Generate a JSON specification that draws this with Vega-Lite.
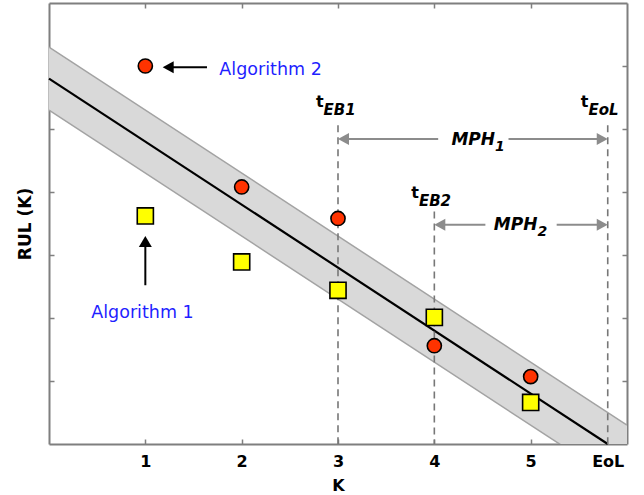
{
  "$schema": "https://vega.github.io/schema/vega-lite/v6.json",
  "width": 578,
  "height": 441,
  "autosize": {"type": "none"},
  "padding": {"left": 49, "top": 3, "right": 17, "bottom": 51},
  "background": "white",
  "config": {
    "view": {"stroke": null},
    "font": "DejaVu Sans",
    "axis": {
      "domainColor": "#7f7f7f",
      "domainWidth": 2,
      "tickColor": "#7f7f7f",
      "tickWidth": 1.5,
      "tickSize": -5,
      "grid": false
    }
  },
  "resolve": {"axis": {"x": "independent", "y": "independent"}},
  "datasets": {
    "band": [
      {"k": 0, "lo": 5.3, "hi": 6.3},
      {"k": 6, "lo": -0.7, "hi": 0.3}
    ],
    "edges": [
      {"k": 0, "v": 6.3, "s": "hi"},
      {"k": 6, "v": 0.3, "s": "hi"},
      {"k": 0, "v": 5.3, "s": "lo"},
      {"k": 6, "v": -0.7, "s": "lo"}
    ],
    "mean": [
      {"k": 0, "v": 5.8},
      {"k": 5.8, "v": 0}
    ],
    "dashed": [
      {"k": 3, "top": 5.06},
      {"k": 4, "top": 3.69},
      {"k": 5.8, "top": 5.06}
    ],
    "graysegs": [
      {"x": 3.05, "x2": 4.04, "y": 4.84, "y2": 4.84},
      {"x": 4.77, "x2": 5.75, "y": 4.84, "y2": 4.84},
      {"x": 4.05, "x2": 4.53, "y": 3.48, "y2": 3.48},
      {"x": 5.27, "x2": 5.75, "y": 3.48, "y2": 3.48}
    ],
    "grayheads": [
      {"x": 3, "y": 4.84, "d": "L"},
      {"x": 5.8, "y": 4.84, "d": "R"},
      {"x": 4, "y": 3.48, "d": "L"},
      {"x": 5.8, "y": 3.48, "d": "R"}
    ],
    "blacksegs": [
      {"x": 1.22, "x2": 1.64, "y": 5.98, "y2": 5.98},
      {"x": 1, "x2": 1, "y": 2.52, "y2": 3.22}
    ],
    "blackheads": [
      {"x": 1.18, "y": 5.98, "d": "L"},
      {"x": 1, "y": 3.3, "d": "U"}
    ],
    "alg2": [
      {"k": 1, "rul": 6.0},
      {"k": 2, "rul": 4.08},
      {"k": 3, "rul": 3.58},
      {"k": 4, "rul": 1.56},
      {"k": 5, "rul": 1.07}
    ],
    "alg1": [
      {"k": 1, "rul": 3.62},
      {"k": 2, "rul": 2.89},
      {"k": 3, "rul": 2.44},
      {"k": 4, "rul": 2.01},
      {"k": 5, "rul": 0.66}
    ],
    "algtext": [
      {"x": 2.3, "y": 5.85, "t": "Algorithm 2"},
      {"x": 0.97, "y": 2.0, "t": "Algorithm 1"}
    ],
    "tlabels": [
      {"x": 2.85, "y": 5.35, "sub": "EB1"},
      {"x": 3.84, "y": 3.9, "sub": "EB2"},
      {"x": 5.6, "y": 5.35, "sub": "EoL"}
    ],
    "mph": [
      {"x": 4.63, "y": 4.75, "sub": "1"},
      {"x": 5.07, "y": 3.39, "sub": "2"}
    ]
  },
  "layer": [
    {
      "data": {"name": "band"},
      "mark": {"type": "area", "clip": true, "color": "#d9d9d9", "opacity": 1},
      "encoding": {
        "x": {"field": "k", "type": "quantitative", "scale": {"domain": [0, 6], "nice": false, "zero": false},
              "axis": {"orient": "top", "labels": false, "title": null, "values": [1, 2, 3, 4, 5]}},
        "y": {"field": "lo", "type": "quantitative", "scale": {"domain": [0, 7], "nice": false, "zero": false},
              "axis": {"orient": "right", "labels": false, "title": null, "values": [1, 2, 3, 4, 5, 6]}},
        "y2": {"field": "hi"}
      }
    },
    {
      "data": {"name": "edges"},
      "mark": {"type": "line", "clip": true, "color": "#a3a3a3", "strokeWidth": 1.5},
      "encoding": {
        "x": {"field": "k", "type": "quantitative", "axis": null},
        "y": {"field": "v", "type": "quantitative", "axis": null},
        "detail": {"field": "s"}
      }
    },
    {
      "data": {"name": "mean"},
      "mark": {"type": "line", "color": "black", "strokeWidth": 2.2},
      "encoding": {
        "x": {"field": "k", "type": "quantitative",
              "axis": {"orient": "bottom", "values": [1, 2, 3, 4, 5, 5.8],
                       "labelExpr": "datum.value > 5.5 ? 'EoL' : datum.label",
                       "labelFont": "DejaVu Sans", "labelFontWeight": "bold", "labelFontSize": 16,
                       "labelColor": "black", "labelPadding": 14,
                       "title": "K", "titleFont": "DejaVu Sans", "titleFontWeight": "bold",
                       "titleFontSize": 16, "titleColor": "black", "titlePadding": 8}},
        "y": {"field": "v", "type": "quantitative",
              "axis": {"orient": "left", "values": [1, 2, 3, 4, 5, 6], "labels": false,
                       "title": "RUL (K)", "titleFont": "DejaVu Sans", "titleFontWeight": "bold",
                       "titleFontSize": 17, "titleColor": "black", "titlePadding": 14}}
      }
    },
    {
      "data": {"name": "dashed"},
      "mark": {"type": "rule", "color": "#777777", "strokeWidth": 1.6, "strokeDash": [7, 5]},
      "encoding": {
        "x": {"field": "k", "type": "quantitative", "axis": null},
        "y": {"field": "top", "type": "quantitative", "axis": null},
        "y2": {"datum": 0}
      }
    },
    {
      "data": {"name": "graysegs"},
      "mark": {"type": "rule", "color": "#8c8c8c", "strokeWidth": 2},
      "encoding": {
        "x": {"field": "x", "type": "quantitative", "axis": null},
        "x2": {"field": "x2"},
        "y": {"field": "y", "type": "quantitative", "axis": null},
        "y2": {"field": "y2"}
      }
    },
    {
      "data": {"name": "grayheads"},
      "mark": {"type": "point", "filled": true, "size": 100, "color": "#8c8c8c", "opacity": 1},
      "encoding": {
        "x": {"field": "x", "type": "quantitative", "axis": null},
        "y": {"field": "y", "type": "quantitative", "axis": null},
        "shape": {"field": "d", "type": "nominal", "legend": null,
                  "scale": {"domain": ["L", "R", "U"],
                            "range": ["M0,0L2.2,-1.2L2.2,1.2Z", "M0,0L-2.2,-1.2L-2.2,1.2Z", "M0,0L-1.3,2.2L1.3,2.2Z"]}}
      }
    },
    {
      "data": {"name": "blacksegs"},
      "mark": {"type": "rule", "color": "black", "strokeWidth": 2},
      "encoding": {
        "x": {"field": "x", "type": "quantitative", "axis": null},
        "x2": {"field": "x2"},
        "y": {"field": "y", "type": "quantitative", "axis": null},
        "y2": {"field": "y2"}
      }
    },
    {
      "data": {"name": "blackheads"},
      "mark": {"type": "point", "filled": true, "size": 100, "color": "black", "opacity": 1},
      "encoding": {
        "x": {"field": "x", "type": "quantitative", "axis": null},
        "y": {"field": "y", "type": "quantitative", "axis": null},
        "shape": {"field": "d", "type": "nominal", "legend": null}
      }
    },
    {
      "data": {"name": "alg2"},
      "mark": {"type": "circle", "size": 200, "color": "#ff3300", "stroke": "black", "strokeWidth": 1.6, "opacity": 1},
      "encoding": {
        "x": {"field": "k", "type": "quantitative", "axis": null},
        "y": {"field": "rul", "type": "quantitative", "axis": null}
      }
    },
    {
      "data": {"name": "alg1"},
      "mark": {"type": "square", "size": 260, "color": "#ffff00", "stroke": "black", "strokeWidth": 1.6, "opacity": 1},
      "encoding": {
        "x": {"field": "k", "type": "quantitative", "axis": null},
        "y": {"field": "rul", "type": "quantitative", "axis": null}
      }
    },
    {
      "data": {"name": "algtext"},
      "mark": {"type": "text", "align": "center", "baseline": "alphabetic", "font": "DejaVu Sans", "fontSize": 17.5, "color": "#1f1fff"},
      "encoding": {
        "x": {"field": "x", "type": "quantitative", "axis": null},
        "y": {"field": "y", "type": "quantitative", "axis": null},
        "text": {"field": "t"}
      }
    },
    {
      "data": {"name": "tlabels"},
      "mark": {"type": "text", "align": "right", "baseline": "alphabetic", "font": "DejaVu Sans", "fontSize": 16, "fontWeight": "bold", "color": "black"},
      "encoding": {
        "x": {"field": "x", "type": "quantitative", "axis": null},
        "y": {"field": "y", "type": "quantitative", "axis": null},
        "text": {"value": "t"}
      }
    },
    {
      "data": {"name": "tlabels"},
      "mark": {"type": "text", "align": "left", "baseline": "alphabetic", "dy": 8, "font": "DejaVu Sans", "fontSize": 15, "fontWeight": "bold", "fontStyle": "italic", "color": "black"},
      "encoding": {
        "x": {"field": "x", "type": "quantitative", "axis": null},
        "y": {"field": "y", "type": "quantitative", "axis": null},
        "text": {"field": "sub"}
      }
    },
    {
      "data": {"name": "mph"},
      "mark": {"type": "text", "align": "right", "baseline": "alphabetic", "font": "DejaVu Sans", "fontSize": 17, "fontWeight": "bold", "fontStyle": "italic", "color": "black"},
      "encoding": {
        "x": {"field": "x", "type": "quantitative", "axis": null},
        "y": {"field": "y", "type": "quantitative", "axis": null},
        "text": {"value": "MPH"}
      }
    },
    {
      "data": {"name": "mph"},
      "mark": {"type": "text", "align": "left", "baseline": "alphabetic", "dy": 6, "font": "DejaVu Sans", "fontSize": 14, "fontWeight": "bold", "fontStyle": "italic", "color": "black"},
      "encoding": {
        "x": {"field": "x", "type": "quantitative", "axis": null},
        "y": {"field": "y", "type": "quantitative", "axis": null},
        "text": {"field": "sub"}
      }
    }
  ]
}
